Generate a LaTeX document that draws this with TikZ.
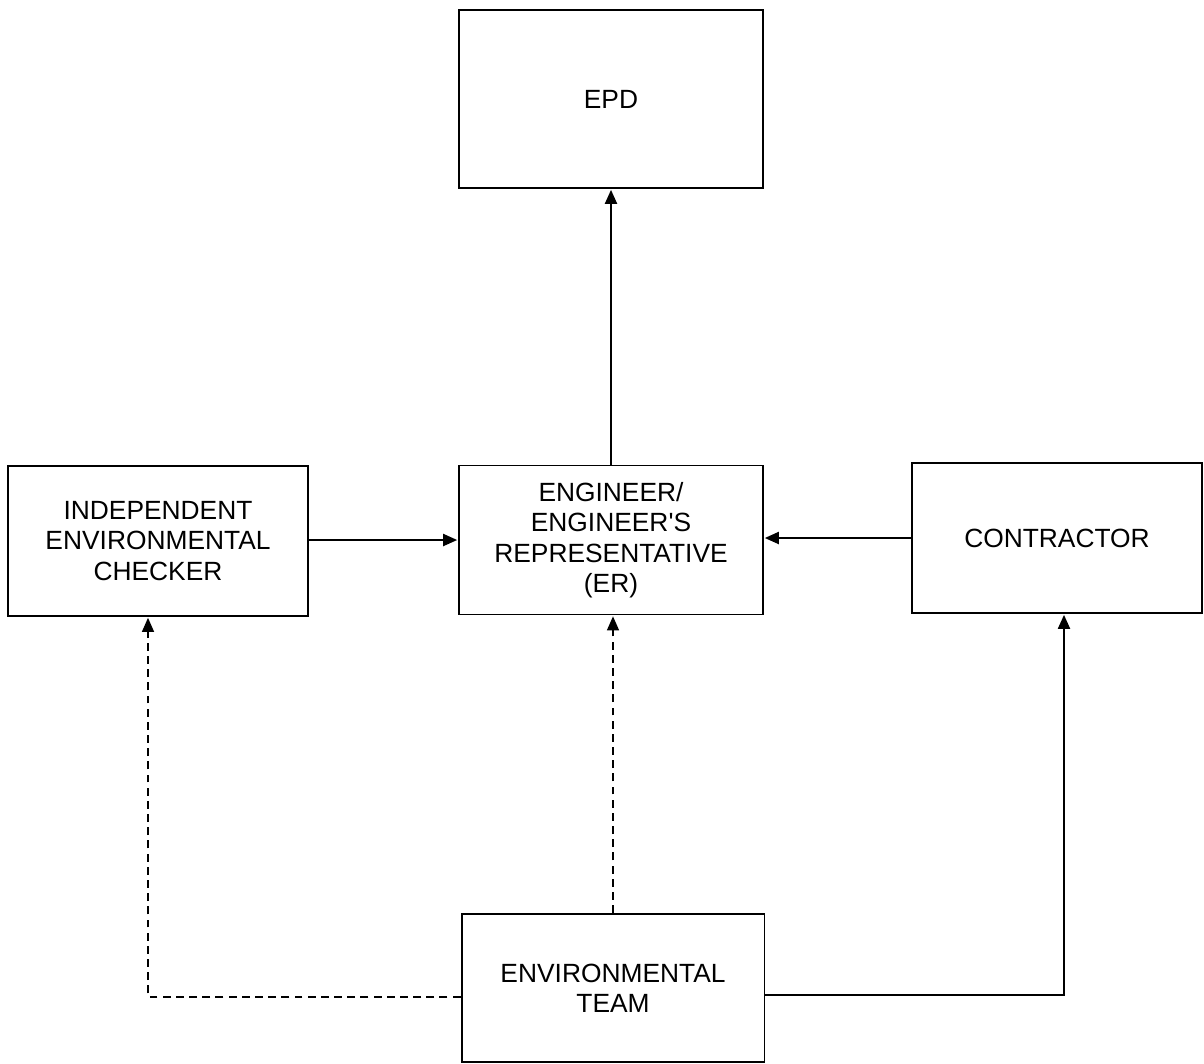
\documentclass[tikz,border=0pt]{standalone}
\usepackage{fontspec}
\setmainfont{Liberation Sans}
\usetikzlibrary{arrows.meta}
\begin{document}
\begin{tikzpicture}[x=0.02cm,y=-0.02cm,>={Triangle[length=0.28cm,width=0.24cm]}, line join=miter]
	\tikzset{
		box/.style={draw,line width=1.1pt,align=center,inner sep=0pt,
			font=\fontsize{15}{17.3}\selectfont},
		link/.style={->,line width=1.1pt,shorten >=0.5pt},
		dlink/.style={->,line width=0.7pt,dashed,dash pattern=on 4.5pt off 3pt,shorten >=0.5pt}
	}
	\useasboundingbox (0,0) rectangle (1204,1063);
	% boxes
	\node[box,minimum width=6.08cm,minimum height=3.56cm] (epd) at (611,99) {EPD};
	\node[box,minimum width=6.08cm,minimum height=2.98cm] (er) at (611,540) {ENGINEER/\\ENGINEER\textquotesingle S\\REPRESENTATIVE\\(ER)};
	\node[box,minimum width=6.00cm,minimum height=3.00cm] (iec) at (158,541) {INDEPENDENT\\ENVIRONMENTAL\\CHECKER};
	\node[box,minimum width=5.80cm,minimum height=3.00cm] (con) at (1057,538) {CONTRACTOR};
	\node[box,minimum width=6.06cm,minimum height=2.96cm] (env) at (613,988) {ENVIRONMENTAL\\TEAM};
	% connectors
	\draw[link] (er.north) -- (epd.south);
	\draw[link] (iec.east |- er.west) -- (er.west);
	\draw[link] (con.west) -- (con.west -| er.east);
	\draw[dlink] (env.north) -- (env.north |- er.south);
	\draw[dlink] ([yshift=-0.18cm]env.west) -| ([xshift=-0.2cm]iec.south);
	\draw[link] ([yshift=-0.14cm]env.east) -| ([xshift=0.14cm]con.south);
\end{tikzpicture}
\end{document}
